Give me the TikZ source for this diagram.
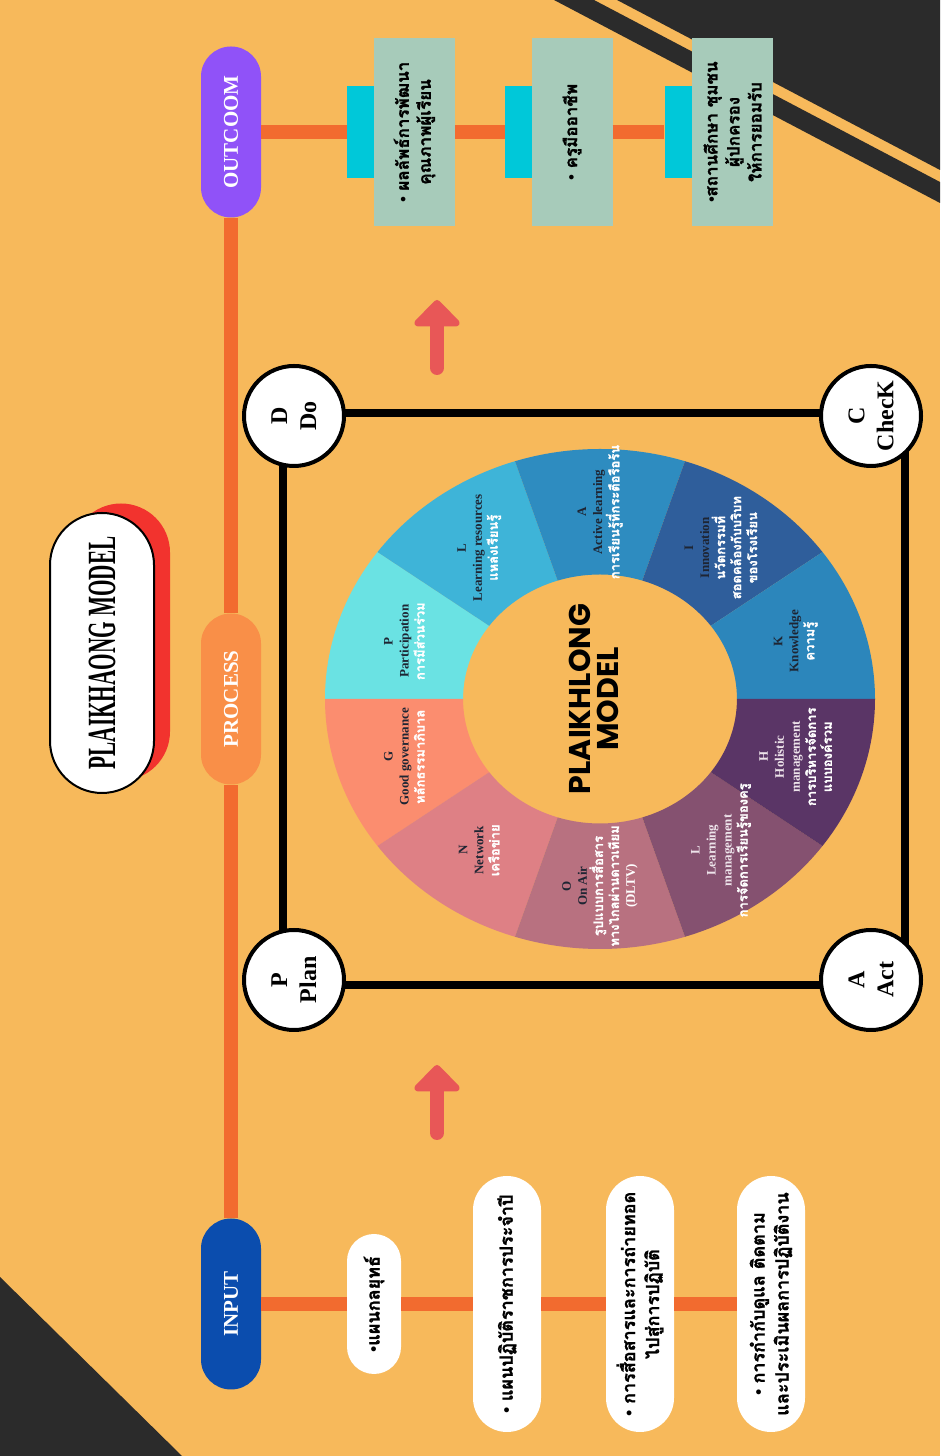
\documentclass[tikz,border=0pt]{standalone}
\usepackage{fontspec}
\setmainfont{Liberation Serif}
\newfontfamily\thaifont[Script=Thai, BoldFeatures={FakeBold=1.3}]{Loma}
\newfontfamily\hubfont{Poppins}
\usepackage{graphicx}
\usetikzlibrary{arrows.meta}

\definecolor{sand}{HTML}{F7B95B}
\definecolor{charcoal}{HTML}{2B2B2B}
\definecolor{lineorange}{HTML}{F26B2F}
\definecolor{inputblue}{HTML}{0B4DAE}
\definecolor{processorange}{HTML}{F98F48}
\definecolor{outpurple}{HTML}{9052F8}
\definecolor{titlered}{HTML}{F2332E}
\definecolor{tabcyan}{HTML}{00C8D9}
\definecolor{sage}{HTML}{A7CBBA}
\definecolor{arrowred}{HTML}{E85757}
\definecolor{segP}{HTML}{6AE2E3}
\definecolor{segLr}{HTML}{3EB4D8}
\definecolor{segA}{HTML}{2E8CC0}
\definecolor{segI}{HTML}{2F5E9B}
\definecolor{segK}{HTML}{2C86BB}
\definecolor{segH}{HTML}{5A3566}
\definecolor{segLm}{HTML}{855170}
\definecolor{segO}{HTML}{B87180}
\definecolor{segN}{HTML}{DE8085}
\definecolor{segG}{HTML}{FB8D6F}
\definecolor{segtext}{HTML}{1E2533}
\definecolor{seglight}{HTML}{EDE3EA}

\newcommand{\inbul}{{\rmfamily\textbullet}}

\tikzset{
  mainline/.style={draw=lineorange, line width=14pt},
  pillbox/.style={rounded corners=30pt, minimum width=171pt, minimum height=60pt, inner sep=0pt, text=white, font=\fontsize{21}{21}\selectfont\bfseries},
  inbox/.style={fill=white, inner sep=0pt, align=center, font=\thaifont\fontsize{18}{24}\selectfont\bfseries},
  outbox/.style={fill=sage, minimum width=188pt, minimum height=81pt, inner sep=0pt, align=center, font=\thaifont\fontsize{17}{22}\selectfont\bfseries},
  tabbox/.style={fill=tabcyan, minimum width=92pt, minimum height=27pt, inner sep=0pt},
  cyclenode/.style={circle, draw=black, line width=4pt, fill=white, minimum size=100pt, inner sep=0pt, align=center, font=\fontsize{24}{29}\selectfont\bfseries},
  cycleline/.style={draw=black, line width=8pt},
  seglabel/.style={align=center, text=segtext, inner sep=0pt, font=\fontsize{13}{16}\selectfont\bfseries},
  redarrow/.style={draw=arrowred, line width=14pt, line cap=round, -{Triangle[length=28pt, width=53pt, round]}}
}

\begin{document}
\begin{tikzpicture}[x=1pt, y=-1pt, rotate=90, transform shape]
\useasboundingbox (0,0) rectangle (1456,940);
\fill[sand] (0,0) rectangle (1456,940);
\fill[charcoal] (0,0) -- (179,0) -- (0,182) -- cycle;
\fill[charcoal] (1456,617) -- (1456,940) -- (1286,940) -- cycle;
\fill[charcoal] (1456,554) -- (1456,594) -- (1274,940) -- (1253,940) -- cycle;

\coordinate (arA1) at (323,437);
\coordinate (arA2) at (391,437);
\coordinate (arB1) at (1088,437);
\coordinate (arB2) at (1156,437);
\coordinate (sqPD) at (471,283);
\coordinate (sqDC) at (1043,283);
\coordinate (sqCA) at (1043,905);
\coordinate (sqAP) at (471,905);

\node[fill=titlered, rounded corners=49pt, minimum width=277pt, minimum height=98pt] (titleshadow) at (814,121) {};
\node[fill=white, draw=black, line width=2pt, rounded corners=52pt, minimum width=280pt, minimum height=104pt, inner sep=0pt] (title) at (803,102)
  {\scalebox{0.53}[1]{\fontsize{40}{40}\selectfont\bfseries PLAIKHAONG MODEL}};

\node[pillbox, fill=inputblue] (input) at (152,231) {INPUT};
\node[pillbox, fill=processorange] (process) at (757,231) {PROCESS};
\node[pillbox, fill=outpurple] (outcome) at (1324,231) {OUTCOOM};

\node[inbox, minimum width=140pt, minimum height=54pt, rounded corners=27pt] (in1) at (152,374) {\inbul แผนกลยุทธ์};
\node[inbox, minimum width=256pt, minimum height=68pt, rounded corners=34pt] (in2) at (152,507) {\inbul{} แผนปฏิบัติราชการประจำปี};
\node[inbox, minimum width=256pt, minimum height=68pt, rounded corners=34pt] (in3) at (152,640) {\inbul{} การสื่อสารและการถ่ายทอด\\ไปสู่การปฏิบัติ};
\node[inbox, minimum width=256pt, minimum height=68pt, rounded corners=34pt] (in4) at (152,771) {\inbul{} การกำกับดูแล ติดตาม\\และประเมินผลการปฏิบัติงาน};

\node[tabbox] (tab1) at (1324,360.5) {};
\node[tabbox] (tab2) at (1324,518.5) {};
\node[tabbox] (tab3) at (1324,678) {};
\node[outbox] (out1) at (1324,414.5) {\inbul{} ผลลัพธ์การพัฒนา\\คุณภาพผู้เรียน};
\node[outbox] (out2) at (1324,572) {\inbul{} ครูมืออาชีพ};
\node[outbox] (out3) at (1324,732.5) {\inbul สถานศึกษา ชุมชน\\ผู้ปกครอง\\ให้การยอมรับ};

\draw[mainline] (input) -- (process) -- (outcome);
\draw[mainline] (input) -- (in1) -- (in2) -- (in3) -- (in4);
\draw[mainline] (outcome) -- (tab1);
\draw[mainline] (out1) -- (tab2);
\draw[mainline] (out2) -- (tab3);

\draw[redarrow] (arA1) -- (arA2);
\draw[redarrow] (arB1) -- (arB2);

\begin{scope}[shift={(757,600)}, yscale=-1.1]
\fill[segP] (90:124.5) -- (90:250) arc[start angle=90, end angle=54, radius=250] -- (54:124.5) arc[start angle=54, end angle=90, radius=124.5] -- cycle;
\fill[segLr] (54:124.5) -- (54:250) arc[start angle=54, end angle=18, radius=250] -- (18:124.5) arc[start angle=18, end angle=54, radius=124.5] -- cycle;
\fill[segA] (18:124.5) -- (18:250) arc[start angle=18, end angle=-18, radius=250] -- (-18:124.5) arc[start angle=-18, end angle=18, radius=124.5] -- cycle;
\fill[segI] (-18:124.5) -- (-18:250) arc[start angle=-18, end angle=-54, radius=250] -- (-54:124.5) arc[start angle=-54, end angle=-18, radius=124.5] -- cycle;
\fill[segK] (-54:124.5) -- (-54:250) arc[start angle=-54, end angle=-90, radius=250] -- (-90:124.5) arc[start angle=-90, end angle=-54, radius=124.5] -- cycle;
\fill[segG] (90:124.5) -- (90:250) arc[start angle=90, end angle=126, radius=250] -- (126:124.5) arc[start angle=126, end angle=90, radius=124.5] -- cycle;
\fill[segN] (126:124.5) -- (126:250) arc[start angle=126, end angle=162, radius=250] -- (162:124.5) arc[start angle=162, end angle=126, radius=124.5] -- cycle;
\fill[segO] (162:124.5) -- (162:250) arc[start angle=162, end angle=198, radius=250] -- (198:124.5) arc[start angle=198, end angle=162, radius=124.5] -- cycle;
\fill[segLm] (198:124.5) -- (198:250) arc[start angle=198, end angle=234, radius=250] -- (234:124.5) arc[start angle=234, end angle=198, radius=124.5] -- cycle;
\fill[segH] (234:124.5) -- (234:250) arc[start angle=234, end angle=270, radius=250] -- (270:124.5) arc[start angle=270, end angle=234, radius=124.5] -- cycle;
\coordinate (lblP) at (72:187);
\coordinate (lblLr) at (36:187);
\coordinate (lblA) at (0:187);
\coordinate (lblI) at (-36:187);
\coordinate (lblK) at (-72:187);
\coordinate (lblG) at (108:187);
\coordinate (lblN) at (144:187);
\coordinate (lblO) at (180:187);
\coordinate (lblLm) at (216:187);
\coordinate (lblH) at (252:187);
\end{scope}

\node[seglabel] (segP) at (lblP) {P\\Participation\\{\thaifont\color{white}การมีส่วนร่วม}};
\node[seglabel] (segLr) at (lblLr) {L\\Learning resources\\{\thaifont\color{white}แหล่งเรียนรู้}};
\node[seglabel] (segA) at (lblA) {A\\Active learning\\{\thaifont\color{white}การเรียนรู้ที่กระตือรือร้น}};
\node[seglabel] (segI) at (lblI) {I\\Innovation\\{\thaifont\color{white}นวัตกรรมที่}\\{\thaifont\color{white}สอดคล้องกับบริบท}\\{\thaifont\color{white}ของโรงเรียน}};
\node[seglabel] (segK) at (lblK) {K\\Knowledge\\{\thaifont\color{white}ความรู้}};
\node[seglabel] (segG) at (lblG) {G\\Good governance\\{\thaifont\color{white}หลักธรรมาภิบาล}};
\node[seglabel] (segN) at (lblN) {N\\Network\\{\thaifont\color{white}เครือข่าย}};
\node[seglabel] (segO) at (lblO) {O\\On Air\\{\thaifont\color{white}รูปแบบการสื่อสาร}\\{\thaifont\color{white}ทางไกลผ่านดาวเทียม}\\{\color{white}(DLTV)}};
\node[seglabel, text=seglight] (segLm) at (lblLm) {L\\Learning\\management\\{\thaifont\color{white}การจัดการเรียนรู้ของครู}};
\node[seglabel, text=seglight] (segH) at (lblH) {H\\Holistic\\management\\{\thaifont\color{white}การบริหารจัดการ}\\{\thaifont\color{white}แบบองค์รวม}};

\node[align=center, font=\hubfont\fontsize{30}{28}\selectfont\bfseries] (hub) at (757,594) {PLAIKHLONG\\MODEL};

\draw[cycleline] (sqPD) -- (sqDC) -- (sqCA) -- (sqAP) -- cycle;
\node[cyclenode] (plan) at (476,294) {P\\Plan};
\node[cyclenode] (do) at (1040,294) {D\\Do};
\node[cyclenode] (check) at (1040,871) {C\\ChecK};
\node[cyclenode] (act) at (476,871) {A\\Act};

\end{tikzpicture}
\end{document}
